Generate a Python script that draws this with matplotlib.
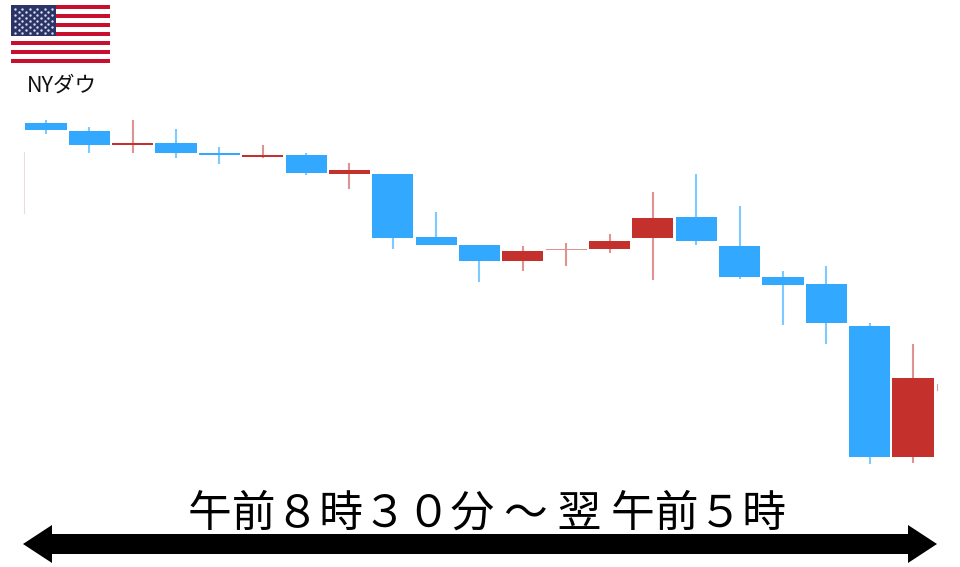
import numpy as np
import matplotlib.pyplot as plt
from matplotlib.patches import Polygon, Rectangle

plt.rcParams['font.family'] = ['Noto Sans CJK JP', 'DejaVu Sans']

# Candle values (price scale is arbitrary, no axis is shown)
body_top = [347, 339, 327, 327, 317, 315, 315, 300, 296, 233, 225, 219, 221, 229, 252, 253, 224, 193, 186, 144, 92]
body_bottom = [340, 325, 325, 317, 315, 313.5, 297, 296, 232, 225, 209, 209, 220, 221, 232, 229, 193, 185, 147, 13, 13]
high = [350, 343, 350, 341, 323, 325, 317, 307, 296, 258, 225, 224, 227, 236, 278, 296, 264, 199, 204, 147, 126]
low = [336, 317, 317, 312, 306, 312, 295, 281, 221, 225, 188, 199, 204, 217, 190, 225, 191, 145, 126, 6, 7]
is_up = [0, 0, 1, 0, 0, 1, 0, 1, 0, 0, 0, 1, 1, 1, 1, 0, 0, 0, 0, 0, 1]

label_top = 'NYダウ'
label_bottom = '午前８時３０分 ～ 翌 午前５時'

BLUE = '#33A8FF'
BLUE_WICK = '#7CCAFF'
RED = '#C4302B'
RED_WICK = '#DE9390'

fig = plt.figure(figsize=(9.6, 5.67), dpi=100)

# Candle axes fills the figure, one x unit per candle
ax = fig.add_axes([0, 0, 1, 1])
x = np.arange(len(body_top))
ax.set_xlim(-46 / 43.35, (960 - 46) / 43.35)
ax.set_ylim(-97, 470)
ax.axis('off')

for i in x:
    wick = RED_WICK if is_up[i] else BLUE_WICK
    ax.vlines(i, low[i], high[i], color=wick, linewidth=1.5, zorder=1)
colors = [RED if u else BLUE for u in is_up]
colors[12] = RED_WICK  # this doji is drawn pale in the picture
heights = np.array(body_top) - np.array(body_bottom)
ax.bar(x, heights, bottom=body_bottom, width=0.95, color=colors, zorder=2)

# Overlay in pixel coordinates for the flag, text and arrow
over = fig.add_axes([0, 0, 1, 1])
over.set_xlim(0, 960)
over.set_ylim(567, 0)
over.axis('off')
over.patch.set_alpha(0)

# Faint stray lines left in the picture
over.plot([23.5, 23.5], [152, 213], color='#E8DCE2', linewidth=0.8)
over.plot([936.5, 936.5], [384, 390], color='#E09A97', linewidth=0.8)

# Flag
over.add_patch(Rectangle((11, 5), 99, 58, facecolor='white', edgecolor='none'))
for s in range(0, 13, 2):
    over.add_patch(Rectangle((11, 5 + s * 58 / 13), 99, 58 / 13, facecolor='#C8102E', edgecolor='none'))
over.add_patch(Rectangle((11, 5), 45, 31, facecolor='#2B3467', edgecolor='none'))
star_x = []
star_y = []
for row in range(9):
    n = 6 if row % 2 == 0 else 5
    for col in range(n):
        star_x.append(15 + col * 7.4 + (0 if row % 2 == 0 else 3.7))
        star_y.append(8.5 + row * 3.1)
over.scatter(star_x, star_y, s=3, color='#DDE0EE', linewidths=0)

# Labels
over.text(62, 86, label_top, fontsize=15.5, ha='center', va='center', color='#111111')
over.text(486.5, 514, label_bottom, fontsize=31.5, ha='center', va='center', color='black')

# Double headed arrow
arrow = [(23, 544), (52, 525), (52, 534), (908, 534), (908, 525), (937, 544),
         (908, 563), (908, 554), (52, 554), (52, 563)]
over.add_patch(Polygon(arrow, closed=True, facecolor='black', edgecolor='none'))

plt.savefig('out.png', dpi=100)
